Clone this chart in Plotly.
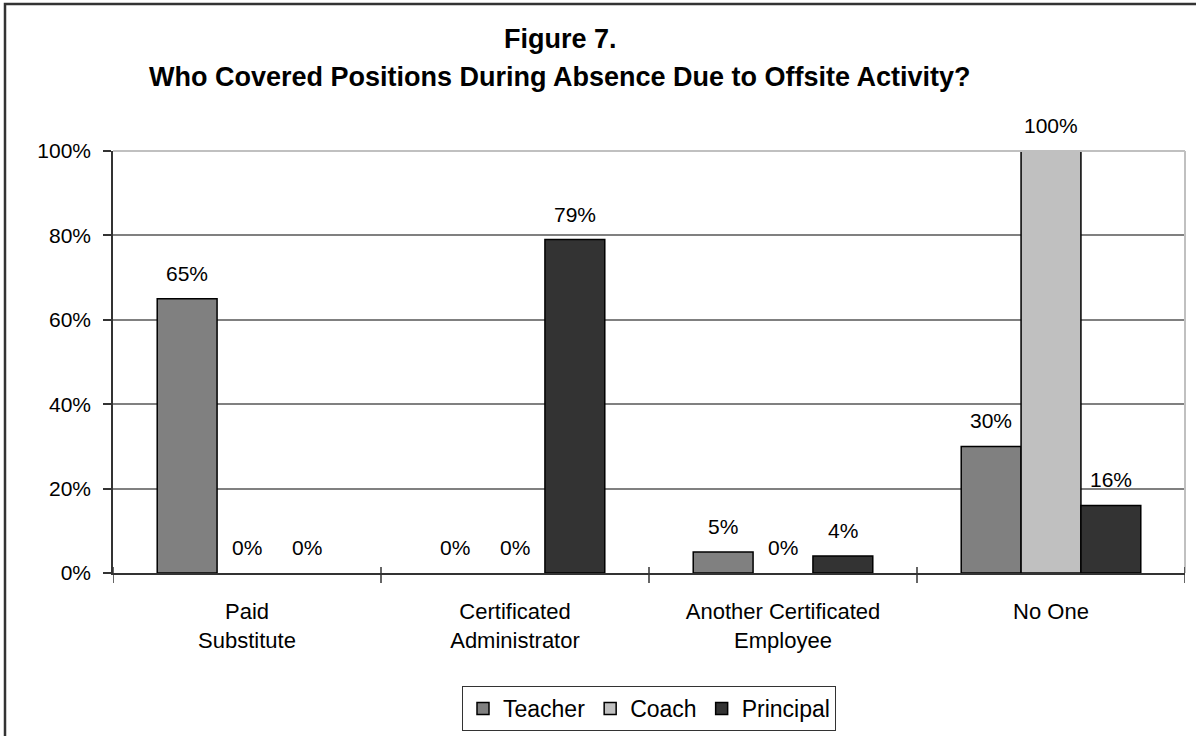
import plotly.graph_objects as go

categories = ["Paid<br>Substitute", "Certificated<br>Administrator",
              "Another Certificated<br>Employee", "No One"]
series_names = ["Teacher", "Coach", "Principal"]
teacher = [65, 0, 5, 30]
coach = [0, 0, 0, 100]
principal = [0, 79, 4, 16]
series_values = [teacher, coach, principal]
colors = ["#808080", "#C0C0C0", "#333333"]

FONT = "Liberation Sans, Arial, sans-serif"
W, H = 1196, 736
L, R, T, B = 113, 11, 151, 163
pw, ph = W - L - R, H - T - B

fig = go.Figure()
for j, (name, vals, c) in enumerate(zip(series_names, series_values, colors)):
    fig.add_trace(go.Bar(
        name=name, x=list(range(len(categories))), y=vals,
        offsetgroup=str(j), showlegend=False, legendgroup=name,
        marker=dict(color=c, line=dict(color="#000000",
                                       width=[1.5 if v > 0 else 0 for v in vals])),
    ))
for j, (name, c) in enumerate(zip(series_names, colors)):
    fig.add_trace(go.Bar(
        name=name, x=[None], y=[None], offsetgroup=str(j),
        showlegend=True, legendgroup=name,
        marker=dict(color=c, line=dict(color="#000000", width=1.5)),
    ))

bargap = 0.33
bw = (1 - bargap) / 3
annotations = []
for j, vals in enumerate(series_values):
    for i, v in enumerate(vals):
        annotations.append(dict(
            x=i + (j - 1) * bw, y=v, xref="x", yref="y",
            text=f"{v}%", showarrow=False, yanchor="bottom", yshift=12,
            font=dict(family=FONT, size=21, color="#000000"),
        ))

def px_to_paper(xp, yp):
    return (xp - L) / pw, (H - B - yp) / ph

tx, ty1 = px_to_paper(560, 39)
_, ty2 = px_to_paper(560, 77)
annotations.append(dict(
    x=tx, y=ty1, xref="paper", yref="paper", text="<b>Figure 7.</b>",
    showarrow=False, xanchor="center", yanchor="middle",
    font=dict(family=FONT, size=27, color="#000000"),
))
annotations.append(dict(
    x=tx, y=ty2, xref="paper", yref="paper",
    text="<b>Who Covered Positions During Absence Due to Offsite Activity?</b>",
    showarrow=False, xanchor="center", yanchor="middle",
    font=dict(family=FONT, size=27, color="#000000"),
))

fx0, fy1 = px_to_paper(5, 4)
fx1, fy0 = px_to_paper(W + 10, H + 10)
shapes = [
    dict(type="rect", xref="paper", yref="paper",
         x0=fx0, x1=fx1, y0=fy0, y1=fy1,
         line=dict(color="#333333", width=2.5), layer="above"),
    dict(type="line", xref="paper", yref="paper", x0=0, x1=1, y0=1, y1=1,
         line=dict(color="#C0C0C0", width=2), layer="above"),
    dict(type="line", xref="paper", yref="paper", x0=1, x1=1, y0=0, y1=1,
         line=dict(color="#C0C0C0", width=2), layer="above"),
]
for k in range(len(categories) + 1):
    shapes.append(dict(type="line", xref="x", yref="paper", x0=k - 0.5, x1=k - 0.5,
                       y0=-10 / ph, y1=6 / ph, line=dict(color="#333333", width=1.5)))

fig.update_layout(
    width=W, height=H,
    margin=dict(l=L, r=R, t=T, b=B, pad=0, autoexpand=False),
    paper_bgcolor="white", plot_bgcolor="white",
    barmode="group", bargap=bargap, bargroupgap=0,
    font=dict(family=FONT, size=21, color="#000000"),
    showlegend=True,
    legend=dict(orientation="h", x=0.5, xanchor="center",
                yref="container", y=1 - 686 / H, yanchor="top",
                bordercolor="#333333", borderwidth=1,
                font=dict(family=FONT, size=23, color="#000000"),
                traceorder="normal", itemwidth=30),
    annotations=annotations,
    shapes=shapes,
)
fig.update_xaxes(
    type="linear", range=[-0.5, 3.5],
    tickvals=list(range(len(categories))), ticktext=categories,
    showline=True, linecolor="#333333", linewidth=1.5,
    showgrid=False, ticks="", tickfont=dict(family=FONT, size=22),
    ticklabelstandoff=18, zeroline=False,
)
fig.update_yaxes(
    range=[0, 100], dtick=20, ticksuffix="%",
    showline=True, linecolor="#333333", linewidth=1.5,
    showgrid=True, gridcolor="#808080", gridwidth=1.5,
    ticks="outside", ticklen=8, tickcolor="#333333", tickwidth=1.5,
    tickfont=dict(family=FONT, size=21), ticklabelstandoff=8, zeroline=False,
)

fig.write_html("out.html", config={"displayModeBar": False},
               post_script="document.body.style.margin='0px';")
